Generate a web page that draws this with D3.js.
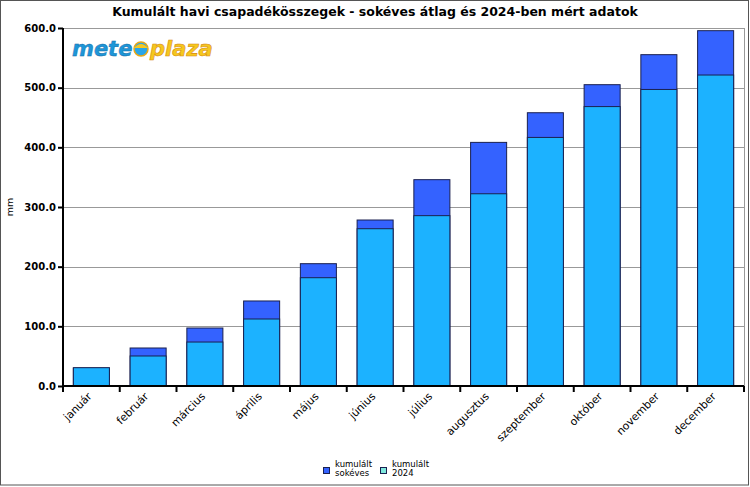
<!DOCTYPE html>
<html><head><meta charset="utf-8">
<script src="https://cdn.jsdelivr.net/npm/d3@7"></script>
<style>body{margin:0;background:#fff}svg{display:block}</style>
</head><body>
<svg id="c" width="750" height="487"></svg>
<script>
const months = ["január","február","március","április","május","június","július","augusztus","szeptember","október","november","december"];
const avgCum = [30, 63.7, 97.2, 142.5, 205, 278.2, 345.8, 408.3, 458, 505, 555.3, 595.5];
const cum2024 = [30.7, 50.3, 73.7, 112.3, 181.5, 263.6, 285.5, 322.2, 416.6, 468.3, 497, 521.2];
const yTicks = [0, 100, 200, 300, 400, 500, 600];
const legendLabels = [["kumulált","sokéves"],["kumulált","2024"]];
const title = "Kumulált havi csapadékösszegek - sokéves átlag és 2024-ben mért adatok";

const svg = d3.select("#c");
const W = 750, H = 487;
const m = {l:63, r:6, t:28, b:101};
const x = d3.scaleBand().domain(months).range([m.l, W - m.r]).paddingInner(0.365).paddingOuter(0.1825);
const y = d3.scaleLinear().domain([0, 600]).range([H - m.b, m.t]);
const colAvg = "#3462ff", col24 = "#1cb2ff";

// outer frame
svg.append("rect").attr("x",0.5).attr("y",0.5).attr("width",W-2).attr("height",H-2.5)
  .attr("fill","#fff").attr("stroke","#555").attr("stroke-width",1);

// title
svg.append("text").attr("x",375).attr("y",16).attr("text-anchor","middle")
  .attr("font-family","DejaVu Sans").attr("font-weight","bold").attr("font-size",12.5).text(title);

// grid
svg.append("g").selectAll("line").data(yTicks.filter(d=>d>0)).join("line")
  .attr("x1",m.l).attr("x2",W-m.r).attr("y1",d=>Math.round(y(d))+0.5).attr("y2",d=>Math.round(y(d))+0.5)
  .attr("stroke","#999").attr("stroke-width",1);
svg.append("line").attr("x1",W-m.r+0.5).attr("x2",W-m.r+0.5).attr("y1",m.t).attr("y2",H-m.b)
  .attr("stroke","#999");

// logo
const logo = svg.append("g").attr("font-family","DejaVu Sans").attr("font-weight","bold").attr("font-style","italic").attr("font-size",21);
logo.append("text").attr("x",72).attr("y",56).attr("fill","#1e96d8").attr("stroke","#0d6aa6").attr("stroke-width",0.4).text("mete");
logo.append("circle").attr("cx",141).attr("cy",49).attr("r",7).attr("fill","#2aa6e8").attr("stroke","#e8a818").attr("stroke-width",1.5);
logo.append("path").attr("d","M134,48 Q141,40 148,48").attr("fill","#f7c820");
logo.append("text").attr("x",150).attr("y",56).attr("fill","#f5c81e").attr("stroke","#d88a10").attr("stroke-width",0.6).text("plaza");

// bars
const bars = svg.append("g");
bars.selectAll("rect.avg").data(months).join("rect").attr("class","avg")
  .attr("x",d=>x(d)).attr("width",x.bandwidth())
  .attr("y",(d,i)=>y(avgCum[i])).attr("height",(d,i)=>y(0)-y(avgCum[i]))
  .attr("fill",colAvg).attr("stroke","#1a2050").attr("stroke-width",1);
bars.selectAll("rect.c24").data(months).join("rect").attr("class","c24")
  .attr("x",d=>x(d)).attr("width",x.bandwidth())
  .attr("y",(d,i)=>y(cum2024[i])).attr("height",(d,i)=>y(0)-y(cum2024[i]))
  .attr("fill",col24).attr("stroke","#1a2050").attr("stroke-width",1);

// y axis
const ya = svg.append("g").attr("transform",`translate(${m.l},0)`)
  .call(d3.axisLeft(y).tickValues(yTicks).tickFormat(d3.format(".1f")).tickSize(5).tickPadding(2));
ya.select(".domain").attr("stroke","#000").attr("stroke-width",2).attr("d",`M0,${m.t}V${H-m.b}`);
ya.selectAll(".tick line").attr("stroke","#000").attr("stroke-width",2);
ya.selectAll("text").attr("font-family","DejaVu Sans").attr("font-weight","bold").attr("font-size",10).attr("fill","#000");

// x axis
const xa = svg.append("g").attr("transform",`translate(0,${H-m.b})`);
xa.append("line").attr("x1",m.l-1).attr("x2",W-m.r).attr("y1",0).attr("y2",0).attr("stroke","#000").attr("stroke-width",2);
const step = x.step();
xa.selectAll("line.tk").data(d3.range(months.length+1)).join("line").attr("class","tk")
  .attr("x1",i=>m.l+i*step).attr("x2",i=>m.l+i*step).attr("y1",0).attr("y2",6)
  .attr("stroke","#000").attr("stroke-width",2);
xa.selectAll("text").data(months).join("text")
  .attr("transform",d=>`translate(${x(d)+x.bandwidth()/2+1},11) rotate(-45)`)
  .attr("text-anchor","end").attr("font-family","DejaVu Sans").attr("font-size",10.8).attr("fill","#000")
  .text(d=>d);

// y label
svg.append("text").attr("transform","translate(13,207) rotate(-90)").attr("text-anchor","middle")
  .attr("font-family","DejaVu Sans").attr("font-size",9.5).text("mm");

// legend
const lg = svg.append("g").attr("font-family","DejaVu Sans").attr("font-size",8.5);
const legCols = [colAvg, "#7ee8dc"];
const lx = [323, 380];
legendLabels.forEach((lab,i)=>{
  lg.append("rect").attr("x",lx[i]+0.5).attr("y",467.5).attr("width",6).attr("height",6)
    .attr("fill",legCols[i]).attr("stroke","#1a2050");
  lab.forEach((t,j)=>lg.append("text").attr("x",lx[i]+12).attr("y",467+j*9).text(t));
});
</script>
</body></html>
